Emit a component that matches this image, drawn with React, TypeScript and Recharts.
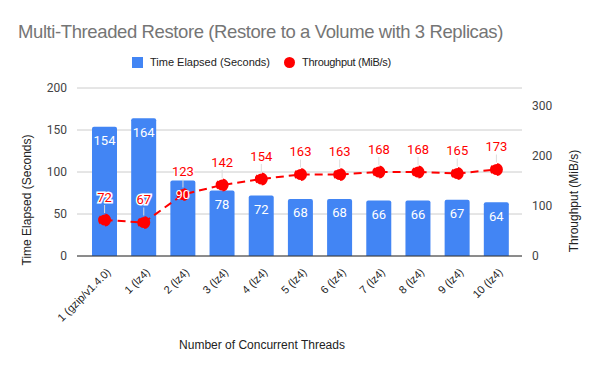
import React from 'react';
import { ComposedChart, Bar, Line, XAxis, YAxis, CartesianGrid, LabelList } from 'recharts';

const threads = ['1 (gzip/v1.4.0)', '1 (lz4)', '2 (lz4)', '3 (lz4)', '4 (lz4)', '5 (lz4)', '6 (lz4)', '7 (lz4)', '8 (lz4)', '9 (lz4)', '10 (lz4)'];
const timeElapsed = [154, 164, 90, 78, 72, 68, 68, 66, 66, 67, 64];
const throughput = [72, 67, 123, 142, 154, 163, 163, 168, 168, 165, 173];
const leftTicks = [0, 50, 100, 150, 200];
const rightTicks = [0, 100, 200, 300];

const data = threads.map((name, i) => ({ name, time: timeElapsed[i], mibs: throughput[i] }));

const FONT = 'Roboto, Arial, sans-serif';
const ARIAL = '"Liberation Sans", Arial, sans-serif';

const AngledTick = (props: any) => {
  const { x, y, payload } = props;
  return (
    <text x={x + 4} y={y + 6} transform={`rotate(-45 ${x + 4} ${y + 6})`} textAnchor="end" dominantBaseline="central"
      fontSize={11} fill="#222" fontFamily={ARIAL}>
      {payload.value}
    </text>
  );
};

const BarValue = (props: any) => {
  const { x, y, width, value } = props;
  return (
    <text x={x + width / 2} y={y + 14} textAnchor="middle" dominantBaseline="central" fontSize={13} fill="#fff" fontFamily={FONT}>
      {value}
    </text>
  );
};

const PointValue = (props: any) => {
  const { x, y, value } = props;
  return (
    <g>
      <line x1={x} y1={y - 7} x2={x} y2={y - 15} stroke="#ddd" strokeWidth={1} />
      <text x={x} y={y - 23} textAnchor="middle" dominantBaseline="central" fontSize={13} fill="#ff0000"
        stroke="#fff" strokeWidth={3} paintOrder="stroke" fontFamily={FONT}>
        {value}
      </text>
    </g>
  );
};

export default function App() {
  return (
    <div style={{ position: 'absolute', left: 0, top: 0, width: 600, height: 371, background: '#fff', fontFamily: ARIAL }}>
      <div style={{ position: 'absolute', left: 18, top: 21, fontSize: 18.5, letterSpacing: -0.4, color: '#757575', whiteSpace: 'nowrap' }}>
        Multi-Threaded Restore (Restore to a Volume with 3 Replicas)
      </div>
      <div style={{ position: 'absolute', left: 132, top: 56, display: 'flex', alignItems: 'center', fontSize: 11, color: '#222', whiteSpace: 'nowrap' }}>
        <span style={{ display: 'inline-block', width: 11, height: 11, background: '#4285f4', marginRight: 7 }} />
        <span style={{ marginRight: 14 }}>Time Elapsed (Seconds)</span>
        <span style={{ display: 'inline-block', width: 11, height: 11, borderRadius: 6, background: '#ff0000', marginRight: 7 }} />
        <span style={{ letterSpacing: -0.3 }}>Throughput (MiB/s)</span>
      </div>
      <ComposedChart width={600} height={371} data={data} margin={{ top: 88, right: 0, bottom: 0, left: 0 }}
        style={{ position: 'absolute', left: 0, top: 0 }}>
        <CartesianGrid yAxisId="left" vertical={false} stroke="#ccc" />
        <XAxis dataKey="name" interval={0} tick={<AngledTick />} tickLine={false} axisLine={{ stroke: '#333' }}
          padding={{ left: 8, right: 6 }} height={115}
          label={{ content: () => (
            <text x={262} y={345} textAnchor="middle" dominantBaseline="central" fontSize={12} fill="#222" fontFamily={ARIAL}>
              Number of Concurrent Threads
            </text>
          ) }} />
        <YAxis yAxisId="left" width={77} domain={[0, 200]} ticks={leftTicks} tickLine={false} axisLine={false}
          tick={{ fontSize: 12, fill: '#444', fontFamily: FONT }} tickMargin={4}
          label={{ content: () => (
            <text x={27} y={200} transform="rotate(-90 27 200)" textAnchor="middle" dominantBaseline="central" fontSize={12} fill="#222" fontFamily={ARIAL}>
              Time Elapsed (Seconds)
            </text>
          ) }} />
        <YAxis yAxisId="right" orientation="right" width={78} domain={[0, 336]} ticks={rightTicks} tickLine={false} axisLine={false}
          tick={{ fontSize: 12, fill: '#444', fontFamily: FONT }} tickMargin={4}
          label={{ content: () => (
            <text x={574} y={201} transform="rotate(-90 574 201)" textAnchor="middle" dominantBaseline="central" fontSize={12} fill="#222" fontFamily={ARIAL}>
              Throughput (MiB/s)
            </text>
          ) }} />
        <Bar yAxisId="left" dataKey="time" fill="#4285f4" barSize={25} radius={[2, 2, 0, 0]} isAnimationActive={false}>
          <LabelList dataKey="time" content={<BarValue />} />
        </Bar>
        <Line yAxisId="right" dataKey="mibs" stroke="#ff0000" strokeWidth={2} strokeDasharray="8 5"
          dot={{ r: 5.5, fill: '#ff0000', stroke: '#ff0000' }} activeDot={false} isAnimationActive={false}>
          <LabelList dataKey="mibs" content={<PointValue />} />
        </Line>
      </ComposedChart>
    </div>
  );
}
